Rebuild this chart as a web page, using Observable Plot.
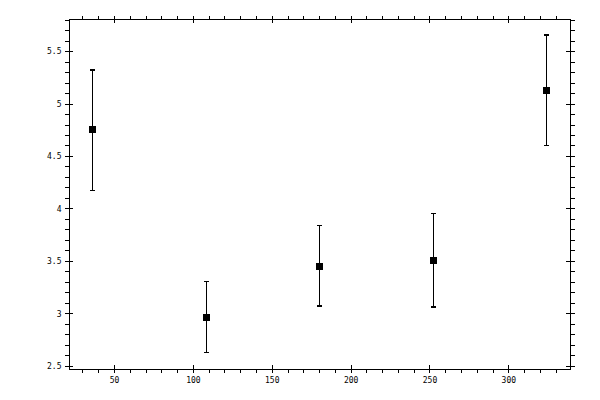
<!DOCTYPE html>
<html>
<head>
<meta charset="utf-8">
<script src="https://cdn.jsdelivr.net/npm/d3@7"></script>
<script src="https://cdn.jsdelivr.net/npm/@observablehq/plot@0.6"></script>
<style>
  html, body { margin: 0; padding: 0; background: #fff; }
  svg { shape-rendering: crispEdges; }
</style>
</head>
<body>
<div id="chart"></div>
<script>
const xValues = [36, 108, 180, 252, 324];
const yValues = [4.757, 2.971, 3.455, 3.512, 5.129];
const yUpper  = [5.325, 3.31, 3.843, 3.957, 5.655];
const yLower  = [4.176, 2.631, 3.074, 3.065, 4.605];

const xMajor = [50, 100, 150, 200, 250, 300];
const xMinor = d3.range(30, 340, 10);
const yMajor = [2.5, 3, 3.5, 4, 4.5, 5, 5.5];
const yMinor = d3.range(25, 59).map(v => v / 10);

const data = xValues.map((x, i) => ({x, y: yValues[i], hi: yUpper[i], lo: yLower[i]}));

const W = 600, H = 400;
const mL = 69, mR = 30, mT = 19, mB = 31;
const frameW = W - mL - mR, frameH = H - mT - mB;

const square = {draw(ctx) { ctx.rect(-3.5, -3.5, 7, 7); }};
const cap = {draw(ctx) { ctx.moveTo(-2.5, 0); ctx.lineTo(2.5, 0); }};

const font = "DejaVu Sans Mono";

const chart = Plot.plot({
  width: W, height: H,
  marginLeft: mL, marginRight: mR, marginTop: mT, marginBottom: mB,
  style: {fontFamily: font, fontSize: "8px", background: "white", color: "black"},
  x: {domain: [21.45, 339.1]},
  y: {domain: [2.471, 5.805]},
  marks: [
    // outward ticks
    Plot.axisX({anchor: "bottom", ticks: xMinor, tickSize: 4, tickPadding: 4,
      tickFormat: d => xMajor.includes(d) ? String(d) : "", label: null, fontSize: 8}),
    Plot.axisX({anchor: "top", ticks: xMinor, tickSize: 4, tickFormat: () => "", label: null}),
    Plot.axisY({anchor: "left", ticks: yMinor, tickSize: 4, tickPadding: 4,
      tickFormat: d => yMajor.some(m => Math.abs(m - d) < 1e-9) ? d3.format("~g")(d) : "", label: null, fontSize: 8}),
    Plot.axisY({anchor: "right", ticks: yMinor, tickSize: 4, tickFormat: () => "", label: null}),
    // inward major ticks
    Plot.tickX(xMajor, {x: d => d, insetTop: frameH - 4, stroke: "black"}),
    Plot.tickX(xMajor, {x: d => d, insetBottom: frameH - 4, stroke: "black"}),
    Plot.tickY(yMajor, {y: d => d, insetRight: frameW - 4, stroke: "black"}),
    Plot.tickY(yMajor, {y: d => d, insetLeft: frameW - 4, stroke: "black"}),
    Plot.frame({stroke: "black"}),
    // error bars
    Plot.ruleX(data, {x: "x", y1: "lo", y2: "hi", stroke: "black"}),
    Plot.dot(data, {x: "x", y: "hi", symbol: cap, stroke: "black", fill: "none"}),
    Plot.dot(data, {x: "x", y: "lo", symbol: cap, stroke: "black", fill: "none"}),
    Plot.dot(data, {x: "x", y: "y", symbol: square, fill: "black", stroke: "none"})
  ]
});
document.getElementById("chart").appendChild(chart);
</script>
</body>
</html>
